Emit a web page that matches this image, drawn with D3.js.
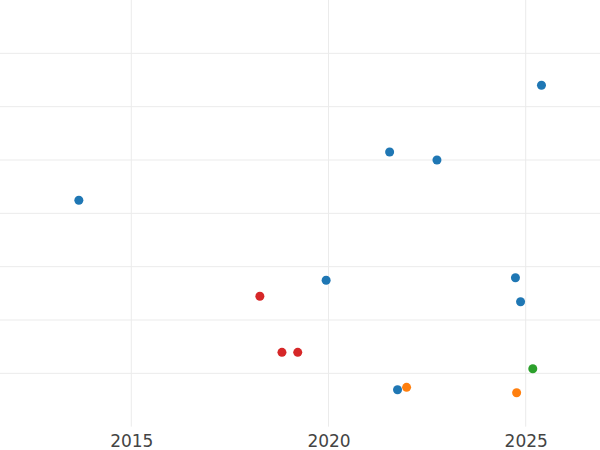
<!DOCTYPE html>
<html><head><meta charset="utf-8">
<script src="https://cdn.jsdelivr.net/npm/d3@7"></script>
<style>html,body{margin:0;padding:0;background:#fff;}svg{display:block;}</style>
</head><body>
<svg id="chart" width="600" height="450"></svg>
<script>
const years  = [2013.67, 2025.40, 2021.55, 2022.75, 2019.94, 2024.74, 2024.87, 2021.75, 2018.26, 2018.82, 2019.22, 2025.18, 2021.98, 2024.77];
const values = [4.245, 6.401, 5.150, 5.000, 2.745, 2.793, 2.343, 0.693, 2.445, 1.394, 1.394, 1.087, 0.738, 0.637];
const groups = ["A","A","A","A","A","A","A","A","D","D","D","C","B","B"];
const groupNames = ["A","B","C","D"];
const groupColors = ["#1f77b4","#ff7f0e","#2ca02c","#d62728"];
const xTicks = [2015, 2020, 2025];
const yTicks = [1, 2, 3, 4, 5, 6, 7];

const svg = d3.select("#chart");
const plotBottom = 426.67;
const x = d3.scaleLinear().domain([2015, 2025]).range([131.3, 525.7]);
const y = d3.scaleLinear().domain([0, 8]).range([plotBottom, 0]);
const color = d3.scaleOrdinal().domain(groupNames).range(groupColors);

const grid = svg.append("g");
grid.selectAll("line.h").data(yTicks).join("line")
  .attr("class","h")
  .attr("x1", 0).attr("x2", 600)
  .attr("y1", d => y(d)).attr("y2", d => y(d))
  .attr("stroke", "#ebebeb").attr("stroke-width", 1);
grid.selectAll("line.v").data(xTicks).join("line")
  .attr("class","v")
  .attr("x1", d => x(d)).attr("x2", d => x(d))
  .attr("y1", 0).attr("y2", plotBottom)
  .attr("stroke", "#ebebeb").attr("stroke-width", 1);

const xAxis = d3.axisBottom(x).tickValues(xTicks).tickFormat(d3.format("d")).tickSize(0).tickPadding(0);
const ax = svg.append("g").attr("transform", `translate(0,${plotBottom})`).call(xAxis);
ax.select(".domain").remove();
ax.selectAll("text")
  .attr("y", 20).attr("dy", 0)
  .attr("font-family", "DejaVu Sans, sans-serif")
  .attr("font-size", 17)
  .attr("fill", "#444")
  .attr("dominant-baseline", "auto");

const idx = d3.range(years.length);
svg.append("g").selectAll("circle").data(idx).join("circle")
  .attr("cx", i => x(years[i]))
  .attr("cy", i => y(values[i]))
  .attr("r", 4.5)
  .attr("fill", i => color(groups[i]));
</script>
</body></html>
